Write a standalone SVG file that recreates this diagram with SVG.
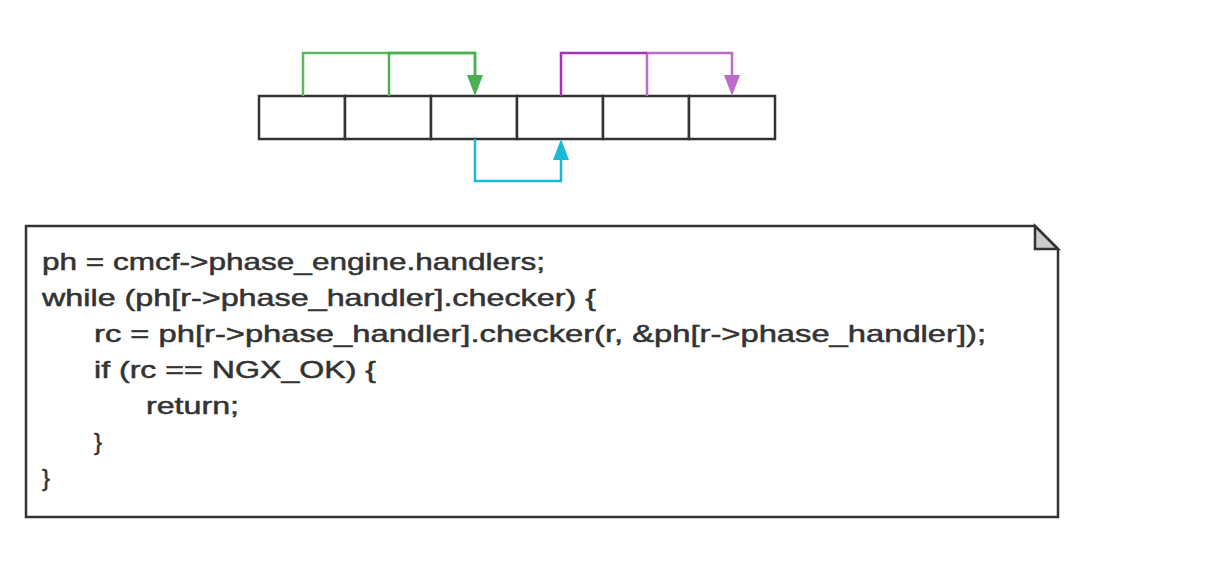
<svg xmlns="http://www.w3.org/2000/svg" width="1231" height="579" viewBox="0 0 1231 579">
  <style>
    .cell { fill: #ffffff; stroke: #333333; stroke-width: 2.5; }
    .note { fill: #ffffff; stroke: #333333; stroke-width: 2.5; }
    .fold { fill: #cccccc; stroke: #333333; stroke-width: 2.5; stroke-linejoin: miter; }
    .edge { fill: none; stroke-width: 2.5; }
    .code { font-family: "Liberation Sans", "DejaVu Sans", sans-serif; font-size: 24px; fill: #333333; stroke: #333333; stroke-width: 0.5; }
  </style>
  <rect width="1231" height="579" fill="#ffffff"/>

  <g id="cells">
    <rect id="cell1" class="cell" x="259" y="96" width="86" height="43"/>
    <rect id="cell2" class="cell" x="345" y="96" width="86" height="43"/>
    <rect id="cell3" class="cell" x="431" y="96" width="86" height="43"/>
    <rect id="cell4" class="cell" x="517" y="96" width="86" height="43"/>
    <rect id="cell5" class="cell" x="603" y="96" width="86" height="43"/>
    <rect id="cell6" class="cell" x="689" y="96" width="86" height="43"/>
  </g>

  <g id="connectors">
    <polyline class="edge" stroke="#5cb85c" points="303,96 303,53 475,53 475,78"/>
    <polyline class="edge" stroke="#4caf50" points="389,96 389,53 475,53 475,78"/>
    <path d="M467,75 L483,75 L475,96 Z" fill="#4caf50"/>

    <polyline class="edge" stroke="#bb6bcc" points="647,96 647,53 732,53 732,78"/>
    <polyline class="edge" stroke="#a432b8" points="561,96 561,53 647,53"/>
    <path d="M724,75 L740,75 L732,96 Z" fill="#bb6bcc"/>

    <polyline class="edge" stroke="#1ab8d6" points="475,139 475,181 561,181 561,158"/>
    <path d="M553,160 L569,160 L561,139 Z" fill="#1ab8d6"/>
  </g>

  <g id="note">
    <path class="note" d="M26,226 L1035,226 L1058,249 L1058,517 L26,517 Z"/>
    <path class="fold" d="M1035,226 L1035,249 L1058,249 Z"/>
    <text class="code" x="42" y="270" textLength="503" lengthAdjust="spacingAndGlyphs">ph = cmcf-&gt;phase_engine.handlers;</text>
    <text class="code" x="42" y="306" textLength="554" lengthAdjust="spacingAndGlyphs">while (ph[r-&gt;phase_handler].checker) {</text>
    <text class="code" x="94" y="342" textLength="892" lengthAdjust="spacingAndGlyphs">rc = ph[r-&gt;phase_handler].checker(r,  &amp;ph[r-&gt;phase_handler]);</text>
    <text class="code" x="94" y="378" textLength="282" lengthAdjust="spacingAndGlyphs">if (rc == NGX_OK) {</text>
    <text class="code" x="146" y="414" textLength="93" lengthAdjust="spacingAndGlyphs">return;</text>
    <text class="code" x="94" y="450">}</text>
    <text class="code" x="42" y="486">}</text>
  </g>
</svg>
